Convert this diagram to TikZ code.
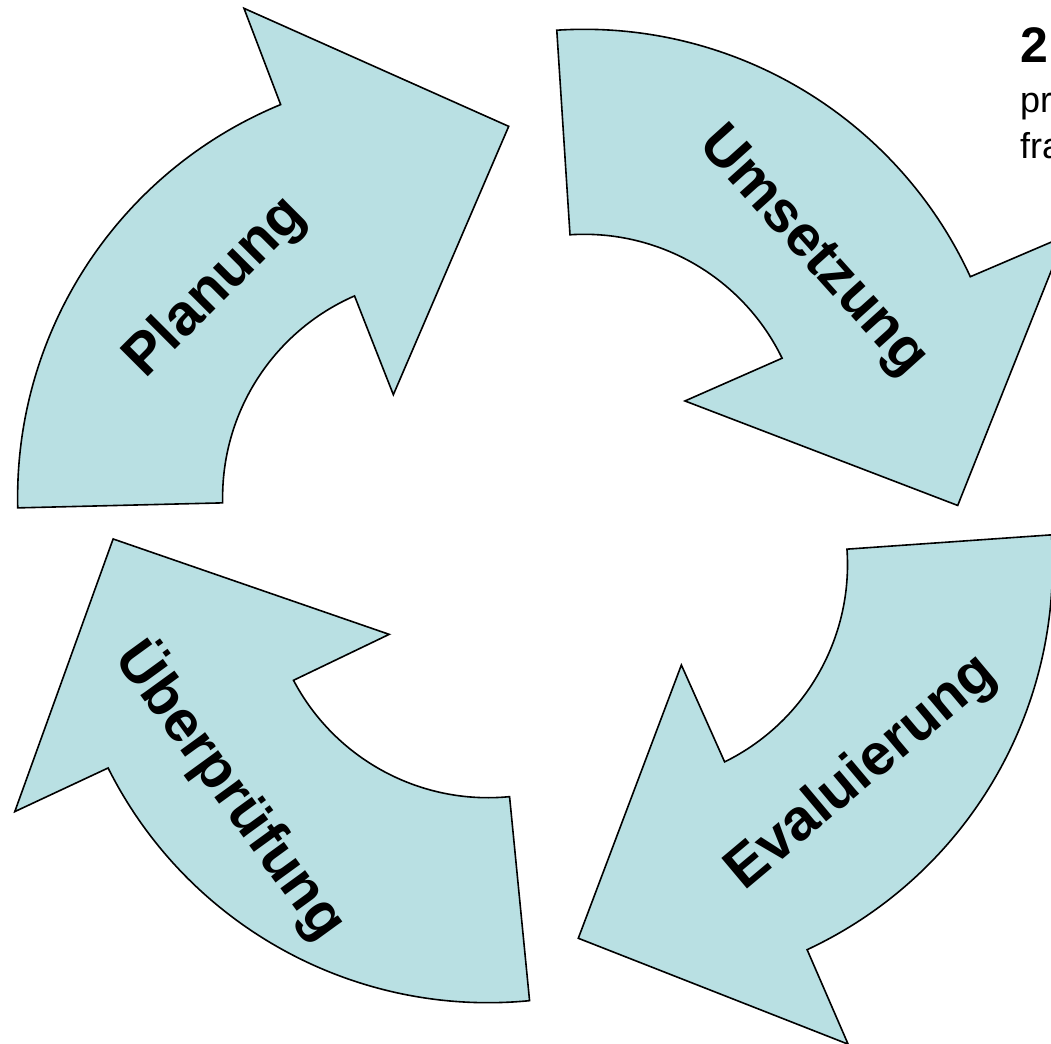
\documentclass[tikz,border=0pt]{standalone}
\usepackage{fontspec}
\setmainfont{Liberation Sans}
\definecolor{arrowfill}{RGB}{185,224,227}
\tikzset{
  cyclearrow/.style={draw=black, fill=arrowfill, line width=1.6pt, line join=miter},
  steplabel/.style={font=\fontsize{58}{70}\selectfont\bfseries, inner sep=0pt},
  sidetext/.style={anchor=base west, inner sep=0pt, font=\fontsize{36}{44}\selectfont},
}
\newcommand{\curvedarrow}[2]{%
  \draw[cyclearrow, shift={#1}]
    (#2:425) arc[start angle=#2, end angle=#2+69, radius=425]
    -- (#2+69.3:528) -- (#2+101.5:377) -- (#2+65.8:114) -- (#2+67.8:220)
    arc[start angle=#2+67.8, end angle=#2, radius=220] -- cycle;}
\begin{document}
\begin{tikzpicture}[x=1pt, y=-1pt]
      \useasboundingbox (0,0) rectangle (1051,1043);
      \curvedarrow{(442.6,497.5)}{178.6}
      \curvedarrow{(584.2,454.3)}{266.3}
      \curvedarrow{(627.5,564.5)}{356}
      \curvedarrow{(488.1,577.7)}{84.4}
      \draw
        (216,288) node[steplabel, rotate=45] (planung) {Planung}
        (812,252) node[steplabel, rotate=-48] (umsetzung) {Umsetzung}
        (862,773) node[steplabel, rotate=40] (evaluierung) {Evaluierung}
        (232,790) node[steplabel, rotate=-54] (ueberpruefung) {Überprüfung};
      \node[sidetext, font=\fontsize{50}{60}\selectfont\bfseries] (nummer) at (1020,63) {2};
      \node[sidetext] (zeile1) at (1020,113) {pr};
      \node[sidetext] (zeile2) at (1020,159) {fra};
    \end{tikzpicture}
\end{document}
